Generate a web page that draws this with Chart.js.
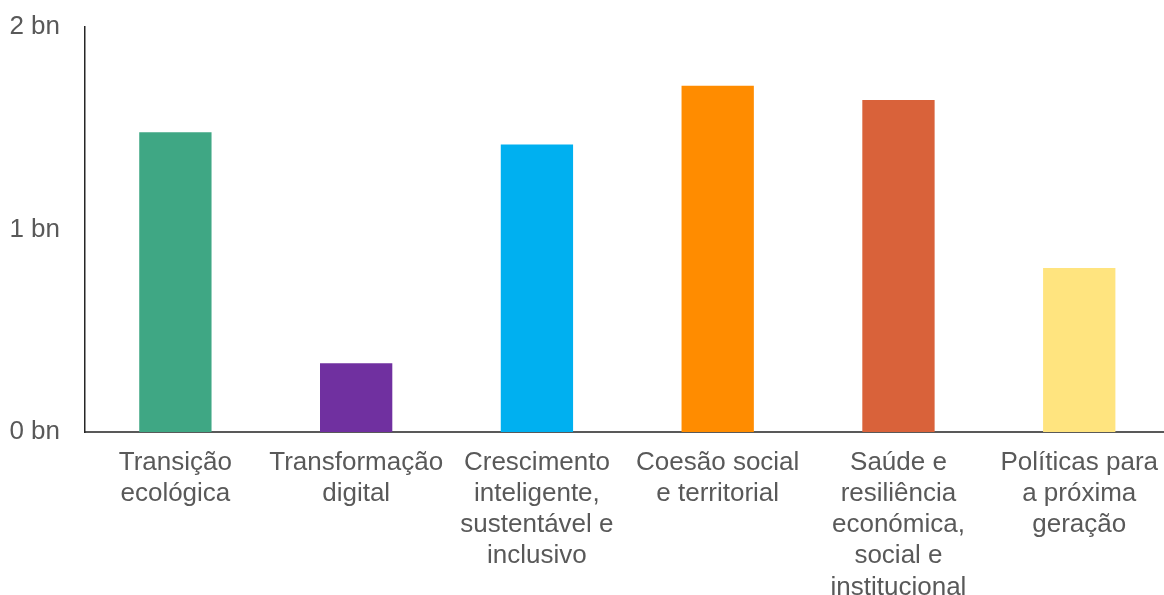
<!DOCTYPE html>
<html>
<head>
<meta charset="utf-8">
<script src="https://cdn.jsdelivr.net/npm/chart.js@4"></script>
<style>
  html, body { margin: 0; padding: 0; background: #fff; overflow: hidden; }
  #wrap { width: 1173px; height: 595px; }
</style>
</head>
<body>
<div id="wrap"><canvas id="barChart" width="1173" height="595"></canvas></div>
<script>
// categories (already split into the lines shown under each bar)
const categories = [
    ['Transição', 'ecológica'],
    ['Transformação', 'digital'],
    ['Crescimento', 'inteligente,', 'sustentável e', 'inclusivo'],
    ['Coesão social', 'e territorial'],
    ['Saúde e', 'resiliência', 'económica,', 'social e', 'institucional'],
    ['Políticas para', 'a próxima', 'geração']
];
// values in billions
const values = [1.48, 0.34, 1.42, 1.71, 1.64, 0.81];
const barColors = ['#3FA784', '#7030A0', '#00B0F0', '#FF8C00', '#D9623A', '#FFE47F'];
const yTicks = [0, 1, 2];

const font = { family: '"Liberation Sans", Arial, sans-serif', size: 26 };

new Chart('barChart', {
    type: 'bar',
    data: {
        labels: categories,
        datasets: [{
            data: values,
            backgroundColor: barColors,
            borderWidth: 0,
            barPercentage: 0.4,
            categoryPercentage: 1
        }]
    },
    options: {
        responsive: false,
        animation: false,
        layout: { padding: { top: 27, left: 0, right: 0, bottom: 0 } },
        plugins: {
            legend: { display: false },
            tooltip: { enabled: false }
        },
        scales: {
            x: {
                grid: { display: false, drawTicks: false },
                border: { color: '#595959', width: 2 },
                ticks: {
                    color: '#595959',
                    font: font,
                    padding: 15,
                    maxRotation: 0,
                    autoSkip: false
                },
                afterFit: function (s) { s.height = 163; }
            },
            y: {
                min: 0,
                max: 2,
                grid: { display: false, drawTicks: false },
                border: { color: '#262626', width: 1.5 },
                afterBuildTicks: function (s) {
                    s.ticks = yTicks.map(function (v) { return { value: v }; });
                },
                ticks: {
                    color: '#595959',
                    font: font,
                    padding: 25,
                    callback: function (v) { return v + ' bn'; }
                },
                afterFit: function (s) {
                    s.width = 85;
                    s.paddingTop = 0;
                    s.paddingBottom = 0;
                }
            }
        }
    }
});
</script>
</body>
</html>
